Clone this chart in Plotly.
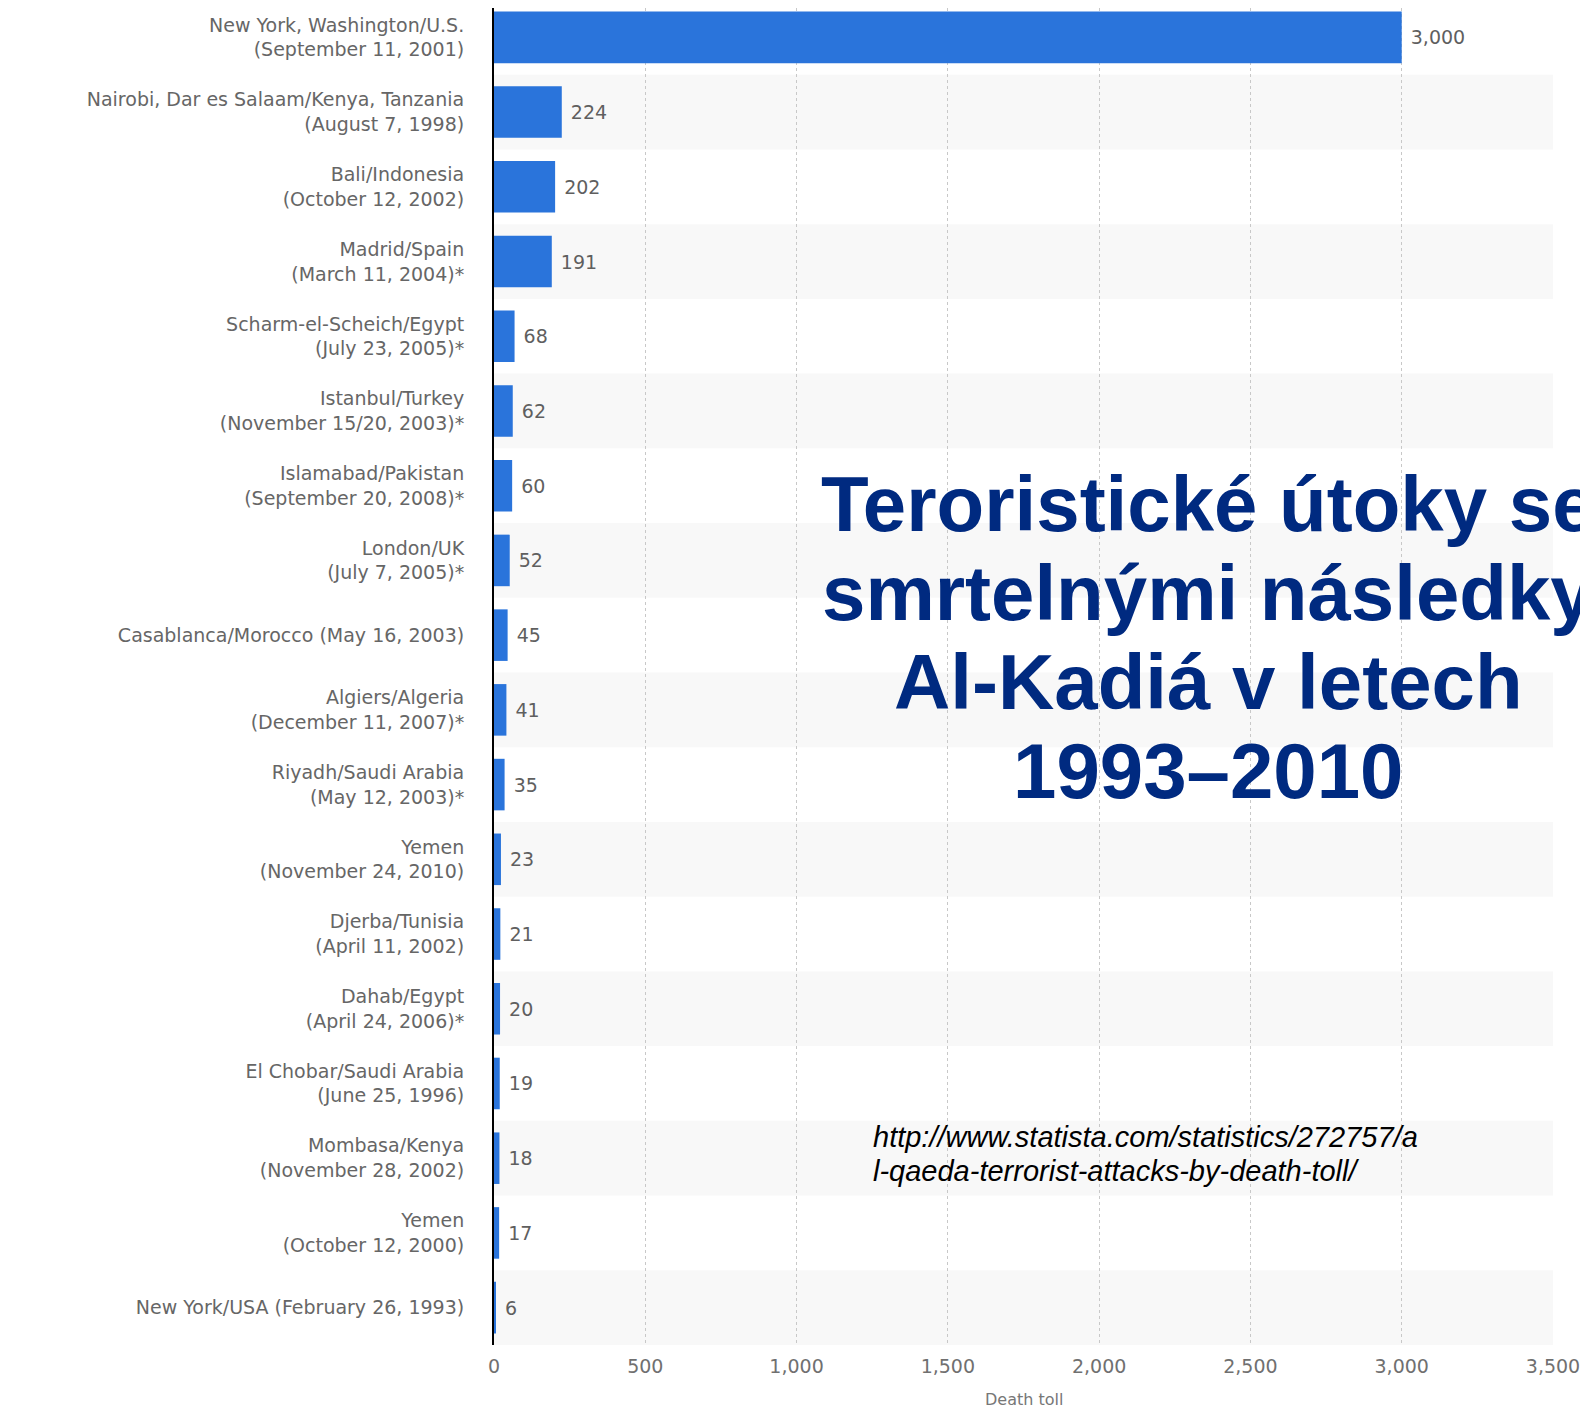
import plotly.graph_objects as go

categories = [
    "New York, Washington/U.S.<br>(September 11, 2001)",
    "Nairobi, Dar es Salaam/Kenya, Tanzania<br>(August 7, 1998)",
    "Bali/Indonesia<br>(October 12, 2002)",
    "Madrid/Spain<br>(March 11, 2004)*",
    "Scharm-el-Scheich/Egypt<br>(July 23, 2005)*",
    "Istanbul/Turkey<br>(November 15/20, 2003)*",
    "Islamabad/Pakistan<br>(September 20, 2008)*",
    "London/UK<br>(July 7, 2005)*",
    "Casablanca/Morocco (May 16, 2003)",
    "Algiers/Algeria<br>(December 11, 2007)*",
    "Riyadh/Saudi Arabia<br>(May 12, 2003)*",
    "Yemen<br>(November 24, 2010)",
    "Djerba/Tunisia<br>(April 11, 2002)",
    "Dahab/Egypt<br>(April 24, 2006)*",
    "El Chobar/Saudi Arabia<br>(June 25, 1996)",
    "Mombasa/Kenya<br>(November 28, 2002)",
    "Yemen<br>(October 12, 2000)",
    "New York/USA (February 26, 1993)",
]
death_toll = [3000, 224, 202, 191, 68, 62, 60, 52, 45, 41, 35, 23, 21, 20, 19, 18, 17, 6]

x_ticks = [0, 500, 1000, 1500, 2000, 2500, 3000, 3500]
x_tick_labels = ["0", "500", "1,000", "1,500", "2,000", "2,500", "3,000", "3,500"]

title_lines = ["Teroristické útoky se", "smrtelnými následky", "Al-Kadiá v letech", "1993–2010"]
source_lines = ["http://www.statista.com/statistics/272757/a", "l-qaeda-terrorist-attacks-by-death-toll/"]
axis_title = "Death toll"

# page is offset by the browser's default 8px body margin
OFF = 8
W, H = 1588 - OFF, 1410 - OFF
ML, MR, MT, MB = 494 - OFF, 35, 0, 65
PW = W - ML - MR
PH = H - MT - MB
ROW = 1345 / len(categories)          # pixel height of one category row on the page
y_top = (len(categories) - 0.5) - PH / ROW


def px_x(px):
    return (px - OFF - ML) / PW


def px_y(py):
    return 1 - (py - OFF - MT) / PH


fig = go.Figure()
fig.add_trace(go.Bar(
    y=list(range(len(categories))),
    x=death_toll,
    orientation="h",
    marker=dict(color="#2A74DB", line=dict(width=0)),
    text=["\u00a0" + f"{v:,}" for v in death_toll],
    textposition="outside",
    outsidetextfont=dict(family="DejaVu Sans", size=19, color="#5f5f5f"),
    cliponaxis=False,
    width=0.69,
    hoverinfo="skip",
))

# alternating row bands
shapes = []
for i in range(len(categories)):
    if i % 2 == 1:
        shapes.append(dict(type="rect", xref="paper", yref="y", x0=0, x1=1,
                           y0=i - 0.5, y1=i + 0.5, fillcolor="#f8f8f8",
                           line=dict(width=0), layer="below"))

annotations = []
title_y = [504, 593, 682, 771]
for line, py in zip(title_lines, title_y):
    annotations.append(dict(text=line, xref="paper", yref="paper", x=px_x(1208), y=px_y(py),
                            xanchor="center", yanchor="middle", showarrow=False,
                            font=dict(family="Liberation Sans", size=78, color="#002A80", weight="bold")))
src_y = [1137, 1171]
for line, py in zip(source_lines, src_y):
    annotations.append(dict(text=line, xref="paper", yref="paper", x=px_x(871), y=px_y(py),
                            xanchor="left", yanchor="middle", showarrow=False,
                            font=dict(family="Liberation Sans", size=29, color="#000000", style="italic")))
annotations.append(dict(text=axis_title, xref="paper", yref="paper", x=0.5, y=px_y(1399),
                        xanchor="center", yanchor="middle", showarrow=False,
                        font=dict(family="DejaVu Sans", size=16, color="#777777")))

fig.update_layout(
    width=W, height=H,
    margin=dict(l=ML, r=MR, t=MT, b=MB, pad=0),
    paper_bgcolor="white", plot_bgcolor="white",
    showlegend=False,
    shapes=shapes,
    annotations=annotations,
    xaxis=dict(range=[0, 3500], tickvals=x_ticks, ticktext=x_tick_labels,
               showgrid=True, gridcolor="#c8c8c8", griddash="dot", gridwidth=1,
               zeroline=False, showline=False, ticks="", ticklabelstandoff=8,
               tickfont=dict(family="DejaVu Sans", size=19, color="#707070"),
               automargin=False, fixedrange=True),
    yaxis=dict(range=[len(categories) - 0.5, y_top], tickvals=list(range(len(categories))),
               ticktext=categories, showgrid=False, zeroline=False,
               showline=True, linecolor="#000000", linewidth=2,
               ticks="", ticklabelstandoff=24,
               tickfont=dict(family="DejaVu Sans", size=19, color="#666666"),
               automargin=False, fixedrange=True),
)

fig.write_html("out.html")
